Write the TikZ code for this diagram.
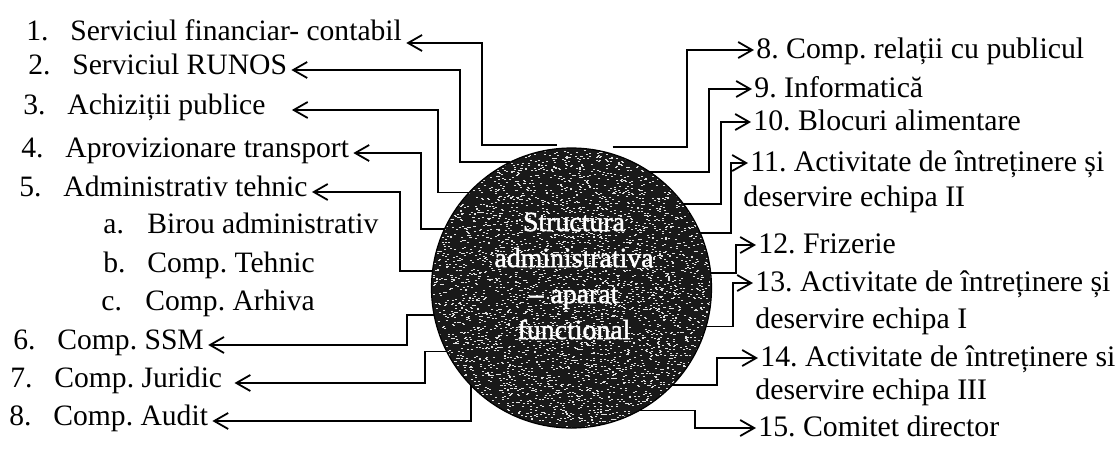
\documentclass[tikz,border=0pt]{standalone}
\usepackage{fontspec}
\setmainfont{Liberation Serif}
\newfontfamily\hubfont[FakeBold=1.6]{Liberation Serif}
\usetikzlibrary{arrows.meta}
\newcommand\itm[1]{\makebox[22pt][l]{#1}}
\frenchspacing
\begin{document}
\begin{tikzpicture}[x=0.5pt,y=-0.5pt,
  conn/.style={line width=0.9pt,-{Straight Barb[length=7pt,width=8pt,line width=0.9pt]}},
  lt/.style={anchor=west,inner xsep=2pt,inner ysep=0pt,text height=0.75em,text depth=0.29em,
    font=\fontsize{14.8}{17}\selectfont},
  rt/.style={anchor=west,inner xsep=1pt,inner ysep=0pt,text height=1em,text depth=0.17em,
    font=\fontsize{14.9}{17}\selectfont},
  hub/.style={circle,draw=black,line width=0.6pt,fill=black!90,minimum size=140pt,inner sep=0pt,outer sep=0pt},
  hubtext/.style={align=center,text=white,inner sep=0pt,font=\hubfont\fontsize{13.9}{18}\selectfont}]
\useasboundingbox (0,0) rectangle (1116,461);

% central circle with grainy fill
\node[hub] (c) at (571.5,288) {};
\begin{scope}
  \clip (571.5,288) circle[radius=139];
  \pgfmathsetseed{4242}
  \foreach \i in {1,...,4500} {
    \pgfmathsetmacro{\px}{571.5+rand*139}
    \pgfmathsetmacro{\py}{288+rand*139}
    \fill[black!12] (\px,\py) rectangle ++(2,1);
  }
\end{scope}
\node[hubtext] (t) at (574,276) {Structura\\administrativa\\– aparat\\functional};

% left column
\node[lt] (l1) at (22,36)  {\itm{1.}Serviciul financiar- contabil};
\node[lt] (l2) at (24,70)  {\itm{2.}Serviciul RUNOS};
\node[lt] (l3) at (19,110) {\itm{3.}Achiziții publice};
\node[lt] (l4) at (17,153) {\itm{4.}Aprovizionare transport};
\node[lt] (l5) at (15,192) {\itm{5.}Administrativ tehnic};
\node[lt] (la) at (99,229) {\itm{a.}Birou administrativ};
\node[lt] (lb) at (99,268) {\itm{b.}Comp. Tehnic};
\node[lt] (lc) at (97,306) {\itm{c.}Comp. Arhiva};
\node[lt] (l6) at (9,345)  {\itm{6.}Comp. SSM};
\node[lt] (l7) at (6,383)  {\itm{7.}Comp. Juridic};
\node[lt] (l8) at (5,421)  {\itm{8.}Comp. Audit};

% right column
\node[rt] (r8)   at (754,50)  {8. Comp. relații cu publicul};
\node[rt] (r9)   at (752,89)  {9. Informatică};
\node[rt] (r10)  at (751,122) {10. Blocuri alimentare};
\node[rt] (r11)  at (748,163) {11. Activitate de întreținere și};
\node[rt] (r11b) at (741,198) {deservire echipa II};
\node[rt] (r12)  at (756,245) {12. Frizerie};
\node[rt] (r13)  at (753,283) {13. Activitate de întreținere și};
\node[rt] (r13b) at (753,320) {deservire echipa I};
\node[rt] (r14)  at (758,358) {14. Activitate de întreținere si};
\node[rt] (r14b) at (753,391) {deservire echipa III};
\node[rt] (r15)  at (756,428) {15. Comitet director};

% bend columns and loose ends
\coordinate (v1) at (482,0);
\coordinate (v2) at (460,0);
\coordinate (v3) at (438,0);
\coordinate (v4) at (421,0);
\coordinate (v5) at (400,0);
\coordinate (v6) at (407,0);
\coordinate (v7) at (425,0);
\coordinate (w8) at (687,0);
\coordinate (w9) at (709,0);
\coordinate (w10) at (721,0);
\coordinate (w11) at (731,0);
\coordinate (w12) at (736,0);
\coordinate (w13) at (733,0);
\coordinate (w14) at (717,0);
\coordinate (w15) at (695,0);
\coordinate (s1) at ([shift={(-15,-3)}]c.north);
\coordinate (s8) at ([shift={(41,-1)}]c.north);
\coordinate (e1) at ([yshift=-3.5pt]l1.east);
\coordinate (e3) at ([xshift=11pt]l3.east);
\coordinate (e7) at ([xshift=4pt]l7.east);

% connectors to the left
\draw[conn] (s1) -| (v1 |- e1) -- (e1);
\draw[conn] (c.116.75) -| (v2 |- l2.east) -- (l2.east);
\draw[conn] (c.137.27) -| (v3 |- e3) -- (e3);
\draw[conn] (c.155.52) -| (v4 |- l4.east) -- (l4.east);
\draw[conn] (c.173.44) -| (v5 |- l5.east) -- (l5.east);
\draw[conn] (c.191.12) -| (v6 |- l6.east) -- (l6.east);
\draw[conn] (c.207.66) -| (v7 |- e7) -- (e7);
\draw[conn] (c.224.7) |- (l8.east);

% connectors to the right
\draw[conn] (s8) -| (w8 |- r8.west) -- (r8.west);
\draw[conn] (c.56.69) -| (w9 |- r9.west) -- (r9.west);
\draw[conn] (c.37.9) -| (w10 |- r10.west) -- (r10.west);
\draw[conn] (c.23.58) -| (w11 |- r11.west) -- (r11.west);
\draw[conn] (c.6.56) -| (w12 |- r12.west) -- (r12.west);
\draw[conn] (c.344.68) -| (w13 |- r13.west) -- (r13.west);
\draw[conn] (c.316.14) -| (w14 |- r14.west) -- (r14.west);
\draw[conn] (c.299.37) -| (w15 |- r15.west) -- (r15.west);
\end{tikzpicture}
\end{document}
